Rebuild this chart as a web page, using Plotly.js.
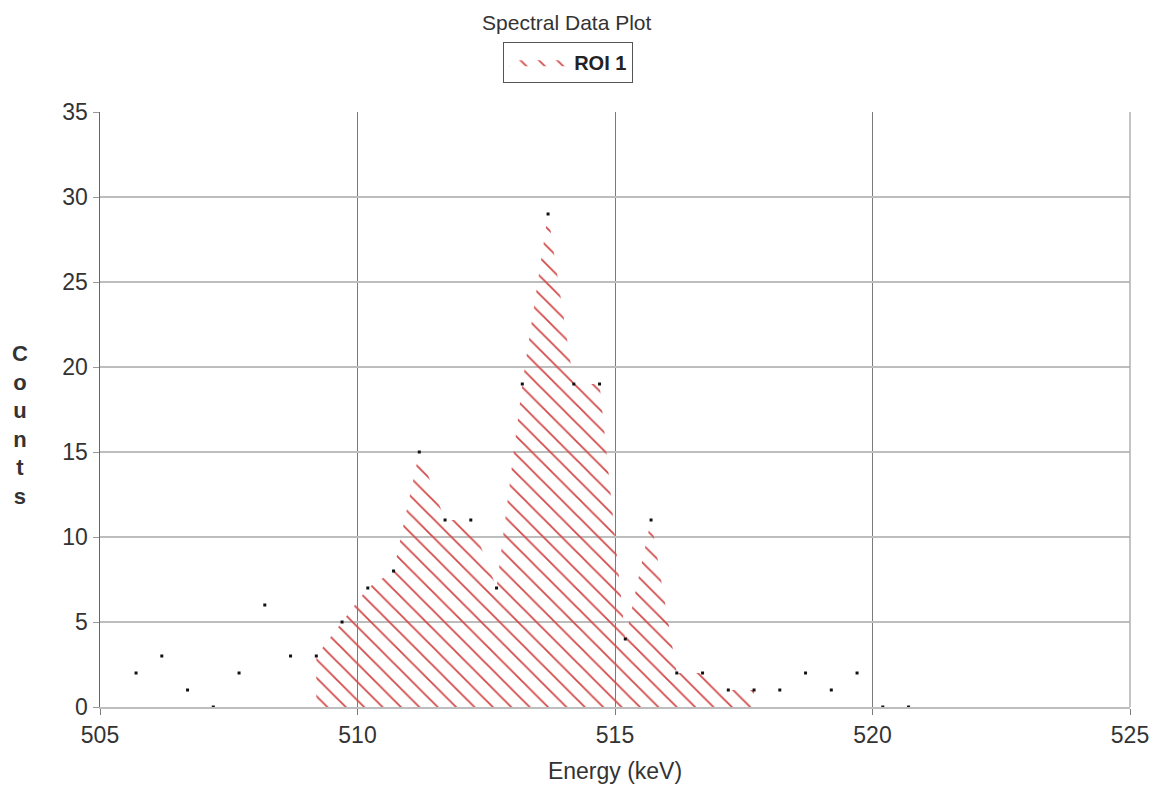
<!DOCTYPE html>
<html>
<head>
<meta charset="utf-8">
<script src="https://cdn.plot.ly/plotly-3.0.1.min.js"></script>
<style>html,body{margin:0;padding:0;background:#fff;}#chart{width:1159px;height:793px;}</style>
</head>
<body>
<div id="chart"></div>
<script>
// Channel energies (keV) and counts
const energy = [505.7, 506.2, 506.7, 507.2, 507.7, 508.2, 508.7, 509.2, 509.7, 510.2,
                510.7, 511.2, 511.7, 512.2, 512.7, 513.2, 513.7, 514.2, 514.7, 515.2,
                515.7, 516.2, 516.7, 517.2, 517.7, 518.2, 518.7, 519.2, 519.7, 520.2, 520.7];
const counts = [2, 3, 1, 0, 2, 6, 3, 3, 5, 7,
                8, 15, 11, 11, 7, 19, 29, 19, 19, 4,
                11, 2, 2, 1, 1, 1, 2, 1, 2, 0, 0];
// Region of interest bounds (keV)
const roiStart = 509.2;
const roiEnd = 517.7;
const roiName = 'ROI 1';
const xTicks = [505, 510, 515, 520, 525];
const yTicks = [0, 5, 10, 15, 20, 25, 30, 35];

const roiX = [], roiY = [];
energy.forEach((e, i) => {
  if (e >= roiStart - 1e-9 && e <= roiEnd + 1e-9) { roiX.push(e); roiY.push(counts[i]); }
});

const FONT = '"Liberation Sans Narrow", "Arial Narrow", "Liberation Sans", Arial, sans-serif';
const HATCH = '#d24b4b';

const traces = [
  {
    x: roiX, y: roiY, name: roiName, type: 'scatter', mode: 'lines',
    line: {width: 0, color: HATCH},
    fill: 'tozeroy', fillcolor: 'rgba(0,0,0,0)',
    fillpattern: {shape: '\\', fgcolor: HATCH, bgcolor: 'rgba(0,0,0,0)', size: 13, solidity: 0.14},
    hoverinfo: 'skip', showlegend: true
  },
  {
    x: energy, y: counts, name: 'data', type: 'scatter', mode: 'markers',
    marker: {symbol: 'square', size: 3, color: '#111'},
    showlegend: false
  }
];

const layout = {
  width: 1159, height: 793,
  margin: {l: 100, r: 29, t: 112, b: 86},
  paper_bgcolor: '#fff', plot_bgcolor: '#fff',
  font: {family: FONT, color: '#333', size: 23},
  title: {text: 'Spectral Data Plot', font: {family: FONT, size: 21, color: '#333'},
          x: 0.489, xanchor: 'center', yref: 'container', y: 0.972, yanchor: 'middle'},
  showlegend: true,
  legend: {x: 0.4545, xanchor: 'center', y: 1.118, yanchor: 'top',
           bordercolor: '#555', borderwidth: 1, bgcolor: '#fff',
           font: {family: FONT, size: 20, color: '#222', weight: 'bold'},
           itemwidth: 60, traceorder: 'normal'},
  xaxis: {
    range: [505, 525], tickvals: xTicks, ticktext: xTicks.map(String),
    showgrid: true, gridcolor: '#7a7a7a', gridwidth: 1,
    ticks: 'outside', ticklen: 6, tickcolor: '#7a7a7a', tickwidth: 1,
    showline: true, linecolor: '#bdbdbd', linewidth: 2,
    zeroline: false, tickfont: {family: FONT, size: 23, color: '#333'},
    title: {text: 'Energy (keV)', font: {family: FONT, size: 23, color: '#333'}, standoff: 16}
  },
  yaxis: {
    range: [0, 35], tickvals: yTicks, ticktext: yTicks.map(String),
    showgrid: true, gridcolor: '#bdbdbd', gridwidth: 2,
    ticks: 'outside', ticklen: 6, tickcolor: '#999', tickwidth: 1,
    showline: true, linecolor: '#666', linewidth: 1.5,
    zeroline: false, tickfont: {family: FONT, size: 23, color: '#333'}
  },
  shapes: [
    {type: 'line', xref: 'paper', yref: 'paper', x0: 1, x1: 1, y0: 0, y1: 1,
     line: {color: '#b0b0b0', width: 1.5}}
  ],
  annotations: [
    {text: 'C<br>o<br>u<br>n<br>t<br>s', xref: 'paper', yref: 'paper',
     x: -0.078, y: 0.474, xanchor: 'center', yanchor: 'middle', showarrow: false,
     font: {family: FONT, size: 22, color: '#333', weight: 'bold'}}
  ]
};

Plotly.newPlot('chart', traces, layout, {displayModeBar: false, staticPlot: true});
</script>
</body>
</html>
